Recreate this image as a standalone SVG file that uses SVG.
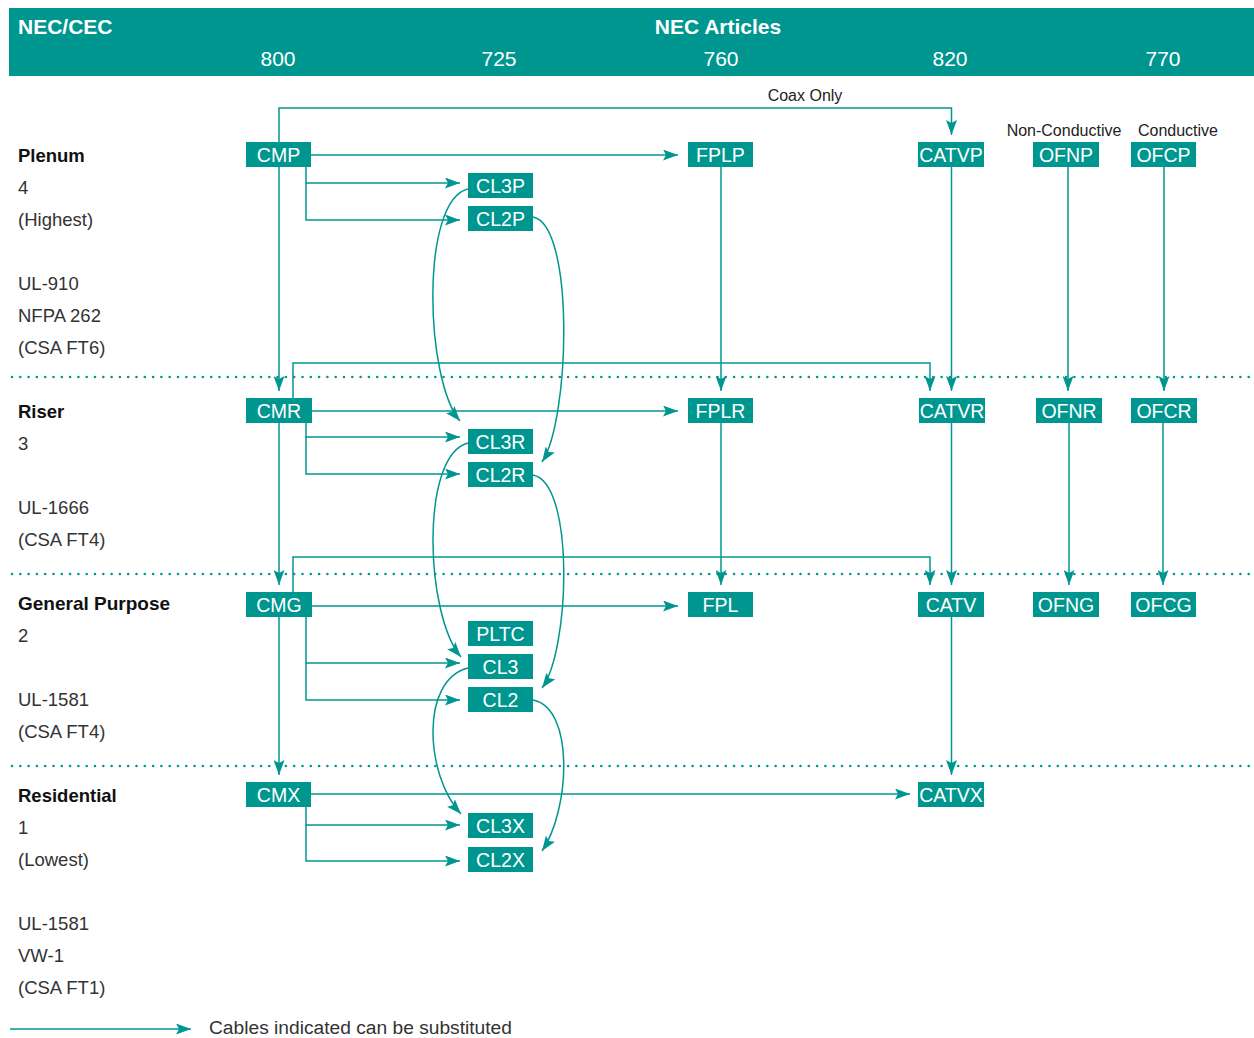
<svg xmlns="http://www.w3.org/2000/svg" width="1254" height="1038" viewBox="0 0 1254 1038">
<style>
.hd{font-family:"Liberation Sans",Arial,sans-serif;fill:#fff;}
.b{font-weight:bold;}
.lbl{font-family:"Liberation Sans",Arial,sans-serif;font-size:18.5px;fill:#333;}
.lb{font-weight:bold;fill:#111;}
.nd rect{fill:#009690;}
.nd text{font-family:"Liberation Sans",Arial,sans-serif;font-size:19.5px;fill:#fff;text-anchor:middle;}
.cn{fill:none;stroke:#009690;stroke-width:1.5;}
.dot{stroke:#009690;stroke-width:2.6;stroke-linecap:round;stroke-dasharray:0 8.3;}
.sm{font-family:"Liberation Sans",Arial,sans-serif;font-size:16px;fill:#222;text-anchor:middle;}
</style>
<defs>
<marker id="ah" markerUnits="userSpaceOnUse" markerWidth="15" markerHeight="11" refX="15" refY="5.5" orient="auto">
<path d="M0,0 L15,5.5 L0,11 L3,5.5 z" fill="#009690"/>
</marker>
</defs>
<rect x="0" y="0" width="1254" height="1038" fill="#fff"/>
<g id="header">
<rect x="9" y="8" width="1245" height="68" fill="#009690"/>
<text class="hd b" x="18" y="34" font-size="21">NEC/CEC</text>
<text class="hd b" x="718" y="34" font-size="21" text-anchor="middle">NEC Articles</text>
<text class="hd" x="278" y="66" font-size="21" text-anchor="middle">800</text>
<text class="hd" x="499" y="66" font-size="21" text-anchor="middle">725</text>
<text class="hd" x="721" y="66" font-size="21" text-anchor="middle">760</text>
<text class="hd" x="950" y="66" font-size="21" text-anchor="middle">820</text>
<text class="hd" x="1163" y="66" font-size="21" text-anchor="middle">770</text>
</g>
<g id="dividers">
<line class="dot" x1="12" y1="377" x2="1252" y2="377"/>
<line class="dot" x1="12" y1="574" x2="1252" y2="574"/>
<line class="dot" x1="12" y1="766" x2="1252" y2="766"/>
</g>
<g id="row-labels" class="lbl">
<text class="lb" x="18" y="162">Plenum</text>
<text x="18" y="194">4</text>
<text x="18" y="226">(Highest)</text>
<text x="18" y="290">UL-910</text>
<text x="18" y="322">NFPA 262</text>
<text x="18" y="354">(CSA FT6)</text>
<text class="lb" x="18" y="418">Riser</text>
<text x="18" y="450">3</text>
<text x="18" y="514">UL-1666</text>
<text x="18" y="546">(CSA FT4)</text>
<text class="lb" x="18" y="610" style="font-size:19px">General Purpose</text>
<text x="18" y="642">2</text>
<text x="18" y="706">UL-1581</text>
<text x="18" y="738">(CSA FT4)</text>
<text class="lb" x="18" y="802">Residential</text>
<text x="18" y="834">1</text>
<text x="18" y="866">(Lowest)</text>
<text x="18" y="930">UL-1581</text>
<text x="18" y="962">VW-1</text>
<text x="18" y="994">(CSA FT1)</text>
</g>
<g id="annotations">
<text class="sm" x="805" y="101">Coax Only</text>
<text class="sm" x="1064" y="136">Non-Conductive</text>
<text class="sm" x="1178" y="136">Conductive</text>
</g>
<g id="connectors">
<path class="cn" d="M279,142 V108 H951.5 V135" marker-end="url(#ah)"/>
<path class="cn" d="M311,155 H678" marker-end="url(#ah)"/>
<path class="cn" d="M306,167 V183 H460" marker-end="url(#ah)"/>
<path class="cn" d="M306,183 V220 H460" marker-end="url(#ah)"/>
<path class="cn" d="M279,167 V391" marker-end="url(#ah)"/>
<path class="cn" d="M721,167 V391" marker-end="url(#ah)"/>
<path class="cn" d="M951.5,167 V391" marker-end="url(#ah)"/>
<path class="cn" d="M1068,167 V391" marker-end="url(#ah)"/>
<path class="cn" d="M1164,167 V391" marker-end="url(#ah)"/>
<path class="cn" d="M468,189 C420,200 425,380 460,421" marker-end="url(#ah)"/>
<path class="cn" d="M533,217 C575,225 570,420 542,462" marker-end="url(#ah)"/>
<path class="cn" d="M293,398 V363 H930 V391" marker-end="url(#ah)"/>
<path class="cn" d="M312,411 H678" marker-end="url(#ah)"/>
<path class="cn" d="M306,423 V437 H460" marker-end="url(#ah)"/>
<path class="cn" d="M306,437 V474 H460" marker-end="url(#ah)"/>
<path class="cn" d="M279,423 V585" marker-end="url(#ah)"/>
<path class="cn" d="M721,423 V585" marker-end="url(#ah)"/>
<path class="cn" d="M951.5,423 V585" marker-end="url(#ah)"/>
<path class="cn" d="M1069,423 V585" marker-end="url(#ah)"/>
<path class="cn" d="M1163,423 V585" marker-end="url(#ah)"/>
<path class="cn" d="M468,443 C420,455 425,615 461,657" marker-end="url(#ah)"/>
<path class="cn" d="M533,475 C575,483 570,650 542,688" marker-end="url(#ah)"/>
<path class="cn" d="M293,592 V557 H930 V585" marker-end="url(#ah)"/>
<path class="cn" d="M312,606 H678" marker-end="url(#ah)"/>
<path class="cn" d="M306,617 V663 H460" marker-end="url(#ah)"/>
<path class="cn" d="M306,663 V700 H460" marker-end="url(#ah)"/>
<path class="cn" d="M279,617 V775" marker-end="url(#ah)"/>
<path class="cn" d="M951.5,617 V775" marker-end="url(#ah)"/>
<path class="cn" d="M468,668 C420,680 425,775 461,814" marker-end="url(#ah)"/>
<path class="cn" d="M533,700 C575,708 570,810 542,851" marker-end="url(#ah)"/>
<path class="cn" d="M311,794 H910" marker-end="url(#ah)"/>
<path class="cn" d="M306,807 V825 H460" marker-end="url(#ah)"/>
<path class="cn" d="M306,825 V861 H460" marker-end="url(#ah)"/>
<path class="cn" d="M10,1029 H191" stroke-width="2.5" marker-end="url(#ah)"/>
</g>
<g id="legend">
<text class="lbl" x="209" y="1034" style="font-size:19.2px">Cables indicated can be substituted</text>
</g>
<g id="CMP" class="nd"><rect x="246" y="142" width="65" height="25"/><text x="278.5" y="162">CMP</text></g>
<g id="CL3P" class="nd"><rect x="468" y="173" width="65" height="25"/><text x="500.5" y="193">CL3P</text></g>
<g id="CL2P" class="nd"><rect x="468" y="206" width="65" height="25"/><text x="500.5" y="226">CL2P</text></g>
<g id="FPLP" class="nd"><rect x="688" y="142" width="65" height="25"/><text x="720.5" y="162">FPLP</text></g>
<g id="CATVP" class="nd"><rect x="918" y="142" width="66" height="25"/><text x="951" y="162">CATVP</text></g>
<g id="OFNP" class="nd"><rect x="1033" y="142" width="66" height="25"/><text x="1066" y="162">OFNP</text></g>
<g id="OFCP" class="nd"><rect x="1131" y="142" width="65" height="25"/><text x="1163.5" y="162">OFCP</text></g>
<g id="CMR" class="nd"><rect x="246" y="398" width="66" height="25"/><text x="279" y="418">CMR</text></g>
<g id="CL3R" class="nd"><rect x="468" y="429" width="65" height="25"/><text x="500.5" y="449">CL3R</text></g>
<g id="CL2R" class="nd"><rect x="468" y="462" width="65" height="25"/><text x="500.5" y="482">CL2R</text></g>
<g id="FPLR" class="nd"><rect x="688" y="398" width="65" height="25"/><text x="720.5" y="418">FPLR</text></g>
<g id="CATVR" class="nd"><rect x="919" y="398" width="66" height="25"/><text x="952" y="418">CATVR</text></g>
<g id="OFNR" class="nd"><rect x="1036" y="398" width="66" height="25"/><text x="1069" y="418">OFNR</text></g>
<g id="OFCR" class="nd"><rect x="1131" y="398" width="66" height="25"/><text x="1164" y="418">OFCR</text></g>
<g id="CMG" class="nd"><rect x="246" y="592" width="66" height="25"/><text x="279" y="612">CMG</text></g>
<g id="PLTC" class="nd"><rect x="468" y="621" width="65" height="25"/><text x="500.5" y="641">PLTC</text></g>
<g id="CL3" class="nd"><rect x="468" y="654" width="65" height="25"/><text x="500.5" y="674">CL3</text></g>
<g id="CL2" class="nd"><rect x="468" y="687" width="65" height="25"/><text x="500.5" y="707">CL2</text></g>
<g id="FPL" class="nd"><rect x="688" y="592" width="65" height="25"/><text x="720.5" y="612">FPL</text></g>
<g id="CATV" class="nd"><rect x="918" y="592" width="66" height="25"/><text x="951" y="612">CATV</text></g>
<g id="OFNG" class="nd"><rect x="1033" y="592" width="66" height="25"/><text x="1066" y="612">OFNG</text></g>
<g id="OFCG" class="nd"><rect x="1131" y="592" width="65" height="25"/><text x="1163.5" y="612">OFCG</text></g>
<g id="CMX" class="nd"><rect x="246" y="782" width="65" height="25"/><text x="278.5" y="802">CMX</text></g>
<g id="CL3X" class="nd"><rect x="468" y="813" width="65" height="25"/><text x="500.5" y="833">CL3X</text></g>
<g id="CL2X" class="nd"><rect x="468" y="847" width="65" height="25"/><text x="500.5" y="867">CL2X</text></g>
<g id="CATVX" class="nd"><rect x="918" y="782" width="66" height="25"/><text x="951" y="802">CATVX</text></g>
</svg>
